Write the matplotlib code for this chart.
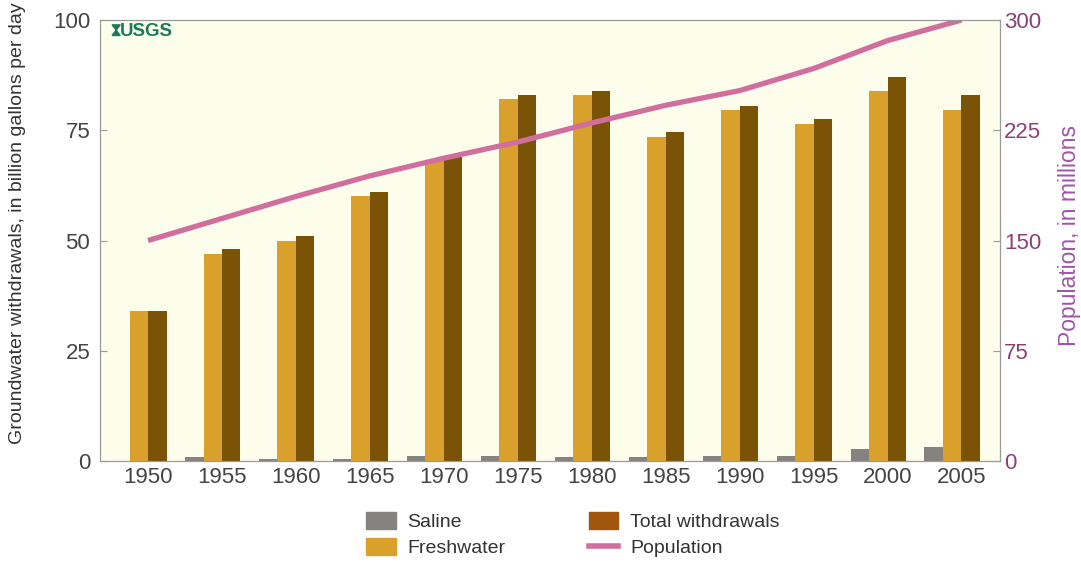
import matplotlib
matplotlib.use('Agg')
import matplotlib.pyplot as plt
import numpy as np
from matplotlib.patches import Patch, Polygon
from matplotlib.lines import Line2D

plt.rcParams['font.family'] = ['Liberation Sans', 'DejaVu Sans']

# 数据
years = ['1950', '1955', '1960', '1965', '1970', '1975',
         '1980', '1985', '1990', '1995', '2000', '2005']
saline = [0, 0.8, 0.5, 0.5, 1.2, 1.2, 0.9, 0.9, 1.2, 1.2, 2.7, 3.1]
freshwater = [34, 47, 50, 60, 68, 82, 83, 73.5, 79.5, 76.5, 84, 79.5]
total = [34, 48, 51, 61, 69, 83, 84, 74.5, 80.5, 77.5, 87, 83]
population = [150, 165, 180, 194, 206, 217, 230, 242, 252, 267, 286, 300]

c_saline = '#858280'
c_fresh = '#D9A12C'
c_total = '#7A5306'
c_total_leg = '#A0560C'
c_pop = '#D16E9E'
c_right = '#8E3F76'
c_right_label = '#A056A8'
c_usgs = '#1B7A5C'

fig = plt.figure(figsize=(10.81, 5.64), dpi=100)
ax = fig.add_axes([0.0925, 0.1826, 0.8325, 0.7819])
ax.set_facecolor('#FDFDEC')

x = np.arange(len(years))
w = 0.25
ax.bar(x - 1.5 * w, saline, w, color=c_saline)
ax.bar(x - 0.5 * w, freshwater, w, color=c_fresh)
ax.bar(x + 0.5 * w, total, w, color=c_total)

ax.set_xlim(-0.65, len(years) - 0.48)
ax.set_ylim(0, 100)
ax.set_yticks([0, 25, 50, 75, 100])
ax.set_xticks(x)
ax.set_xticklabels(years)
ax.tick_params(axis='x', length=0, labelsize=16, colors='#444444', pad=4)
ax.tick_params(axis='y', direction='in', length=5, labelsize=16,
               colors='#999999', labelcolor='#444444', pad=7)
ax.set_ylabel('Groundwater withdrawals, in billion gallons per day',
              fontsize=14, color='#333333')
ax.yaxis.set_label_coords(-0.082, 0.54)
for s in ax.spines.values():
    s.set_color('#999999')

ax2 = ax.twinx()
ax2.plot(x, population, color=c_pop, lw=3.8, solid_capstyle='butt')
ax2.set_ylim(0, 300)
ax2.set_yticks([0, 75, 150, 225, 300])
ax2.tick_params(axis='y', direction='in', length=5, labelsize=16,
                colors='#999999', labelcolor=c_right, pad=3)
ax2.set_ylabel('Population, in millions', fontsize=16.5,
               color=c_right_label)
ax2.yaxis.set_label_coords(1.065, 0.512)
for s in ax2.spines.values():
    s.set_color('#999999')

# USGS 标志 (沙漏形符号 + 文字)
mark = Polygon([(0.0135, 0.989), (0.0225, 0.989), (0.018, 0.977),
                (0.0225, 0.965), (0.0135, 0.965), (0.018, 0.977)],
               closed=True, transform=ax.transAxes, color=c_usgs,
               clip_on=False)
ax.add_patch(mark)
ax.text(0.0225, 0.994, 'USGS', transform=ax.transAxes, ha='left',
        va='top', fontsize=13.5, fontweight='bold', color=c_usgs)

handles = [Patch(color=c_saline), Patch(color=c_fresh),
           Patch(color=c_total_leg), Line2D([], [], color=c_pop, lw=4)]
labels = ['Saline', 'Freshwater', 'Total withdrawals', 'Population']
fig.legend(handles, labels, ncol=2, loc='center',
           bbox_to_anchor=(0.53, 0.052), frameon=False, fontsize=14,
           columnspacing=4.3, handlelength=1.5, handleheight=1.0,
           handletextpad=0.6, labelspacing=0.35, labelcolor='#333333')

fig.savefig('out.png', dpi=100)
